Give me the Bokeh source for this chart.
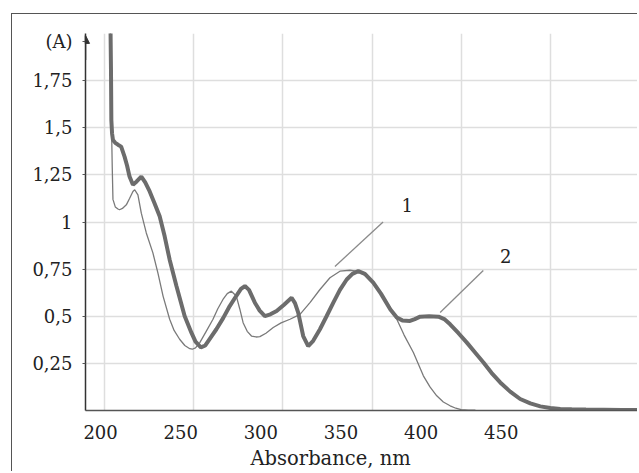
from bokeh.plotting import figure
from bokeh.models import Range1d, FixedTicker, Label, Arrow, NormalHead, Title
from bokeh.embed import file_html
from bokeh.resources import INLINE

# ---- data ----
wl_1 = [203.2, 203.6, 204.0, 204.3, 204.7, 206.0, 207.5, 208.4, 210.0, 212.2, 214.0, 215.9,
        216.9, 218.7, 220.6, 223.4, 227.1, 229.9, 232.8, 236.5, 239.0, 242.1, 245.0, 247.8,
        249.2, 251.0, 253.4, 257.0, 260.8, 263.5, 266.4, 268.8, 271.1, 273.9, 275.8, 277.7,
        280.0, 282.4, 285.0, 287.1, 290.5, 294.6, 299.0, 304.0, 309.6, 315.2, 320.8, 326.4,
        332.0, 337.6, 342.0, 347.0, 351.0, 356.3, 360.0, 363.9, 368.0, 373.2, 378.8, 382.5,
        386.3, 390.0, 393.8, 397.0, 400.0, 404.0, 408.0]
abs_1 = [2.05, 1.70, 1.45, 1.29, 1.12, 1.08, 1.069, 1.065, 1.072, 1.091, 1.125, 1.162,
         1.171, 1.144, 1.047, 0.942, 0.836, 0.73, 0.607, 0.484, 0.425, 0.378, 0.345, 0.328,
         0.325, 0.332, 0.36, 0.42, 0.484, 0.54, 0.589, 0.62, 0.633, 0.607, 0.54, 0.466,
         0.42, 0.395, 0.39, 0.392, 0.41, 0.44, 0.465, 0.484, 0.51, 0.572, 0.642, 0.704,
         0.739, 0.744, 0.738, 0.712, 0.67, 0.607, 0.55, 0.484, 0.40, 0.308, 0.184, 0.125,
         0.078, 0.045, 0.025, 0.012, 0.004, 0.002, 0.002]

wl_2 = [203.3, 203.6, 203.8, 204.2, 204.7, 206.0, 207.5, 209.3, 211.2, 212.6, 214.0, 215.9,
        218.0, 220.6, 222.8, 225.3, 228.0, 230.9, 233.7, 236.5, 240.3, 244.9, 248.7, 251.0,
        254.0, 256.5, 259.0, 262.7, 266.5, 270.2, 274.0, 276.5, 278.7, 281.0, 284.3, 287.0,
        289.9, 293.0, 296.5, 300.5, 304.9, 306.8, 308.6, 311.4, 314.2, 317.0, 320.8, 324.5,
        328.3, 332.0, 335.8, 339.0, 342.3, 346.0, 350.7, 355.0, 360.3, 363.9, 367.0, 371.3,
        374.0, 377.0, 382.0, 387.3, 390.5, 393.8, 398.5, 403.2, 407.8, 412.5, 417.0, 421.9,
        427.5, 433.1, 438.8, 444.4, 450.0, 455.6, 462.0, 470.0, 480.0, 490.0, 499.0]
abs_2 = [2.05, 1.80, 1.54, 1.47, 1.435, 1.42, 1.41, 1.40, 1.347, 1.30, 1.241, 1.197,
         1.215, 1.241, 1.21, 1.162, 1.10, 1.03, 0.924, 0.80, 0.66, 0.501, 0.413, 0.365,
         0.335, 0.345, 0.38, 0.431, 0.49, 0.554, 0.61, 0.645, 0.66, 0.64, 0.572, 0.53,
         0.501, 0.51, 0.528, 0.56, 0.598, 0.57, 0.519, 0.395, 0.342, 0.37, 0.431, 0.50,
         0.572, 0.64, 0.695, 0.725, 0.739, 0.725, 0.678, 0.62, 0.536, 0.493, 0.478, 0.475,
         0.485, 0.498, 0.50, 0.498, 0.485, 0.457, 0.41, 0.36, 0.308, 0.255, 0.20, 0.149,
         0.10, 0.061, 0.038, 0.022, 0.013, 0.008, 0.006, 0.005, 0.004, 0.003, 0.003]

x_ticks = [200, 250, 300, 350, 400, 450]
y_ticks = [0.25, 0.5, 0.75, 1.0, 1.25, 1.5, 1.75, 1.958]
y_tick_labels = ["0,25", "0,5", "0,75", "1", "1,25", "1,5", "1,75", "(A)"]
y_grid = [0.25, 0.5, 0.75, 1.0, 1.25, 1.5, 1.75, 2.0]

series_names = ["1", "2"]
lead_x0 = [329.2, 388.2]
lead_y0 = [0.764, 0.52]
lead_x1 = [356.2, 412.4]
lead_y1 = [1.0, 0.743]
name_x = [369.7, 425.0]
name_y = [1.09, 0.819]

FONT = "DejaVu Serif"
TXT = "#222222"
D = "data"

# default x range carries the printed tick labels; the curves use the "data" range
p = figure(width=626, height=458, output_backend="svg", toolbar_location=None,
           x_range=Range1d(190.6, 535.0), y_range=Range1d(0, 2.0),
           min_border_left=73, min_border_right=1, min_border_top=19, min_border_bottom=61,
           styles={"border-top": "1.5px solid #555555", "border-left": "1.5px solid #555555",
                   "margin-left": "11px", "margin-top": "13px"})
p.extra_x_ranges = {D: Range1d(189.3, 498.9)}
p.outline_line_color = None
p.background_fill_color = "white"
p.border_fill_color = "white"

# grid
p.xgrid.x_range_name = D
p.xgrid.ticker = FixedTicker(ticks=x_ticks)
p.ygrid.ticker = FixedTicker(ticks=y_grid)
p.grid.grid_line_color = "#dedede"
p.grid.grid_line_width = 1.5

# x axis (printed labels, no tick marks)
xa = p.xaxis[0]
xa.ticker = FixedTicker(ticks=x_ticks)
xa.major_tick_line_color = None
xa.minor_tick_line_color = None
xa.major_tick_out = 0
xa.major_tick_in = 0
xa.major_label_standoff = 14
xa.major_label_text_font = FONT
xa.major_label_text_font_size = "18px"
xa.major_label_text_color = TXT
xa.axis_line_color = "#555555"
xa.axis_line_width = 1.5

# y axis
ya = p.yaxis[0]
ya.ticker = FixedTicker(ticks=y_ticks)
ya.major_label_overrides = {t: s for t, s in zip(y_ticks, y_tick_labels)}
ya.major_label_text_font = FONT
ya.major_label_text_font_size = "18px"
ya.major_label_text_color = TXT
ya.major_tick_out = 3
ya.major_tick_in = 0
ya.major_label_standoff = 10
ya.minor_tick_line_color = None
ya.axis_line_color = "#333333"
ya.axis_line_width = 1.5
ya.major_tick_line_color = "#555555"

# axis title
p.add_layout(Title(text="Absorbance, nm", align="left", offset=165, standoff=6,
                   text_font=FONT, text_font_size="19.5px", text_font_style="normal",
                   text_color=TXT), "below")

# curves
p.line(wl_1, abs_1, line_color="#7a7a7a", line_width=1.3, x_range_name=D)
p.line(wl_2, abs_2, line_color="#6c6c6c", line_width=4, x_range_name=D)

# leader lines and series numbers
p.segment(x0=lead_x0, y0=lead_y0, x1=lead_x1, y1=lead_y1, line_color="#8a8a8a",
          line_width=1.3, x_range_name=D)
for nm, nx, ny in zip(series_names, name_x, name_y):
    p.add_layout(Label(x=nx, y=ny, text=nm, text_font=FONT, text_font_size="18px",
                       text_color=TXT, text_align="center", text_baseline="middle",
                       x_range_name=D))

# arrow on top of the y axis
p.add_layout(Arrow(end=NormalHead(size=8, fill_color="#333333", line_color="#333333"),
                   x_start=189.3, y_start=1.86, x_end=189.3, y_end=1.99,
                   line_color="#333333", line_width=1.5, x_range_name=D))

open("out.html", "w").write(file_html(p, INLINE))
